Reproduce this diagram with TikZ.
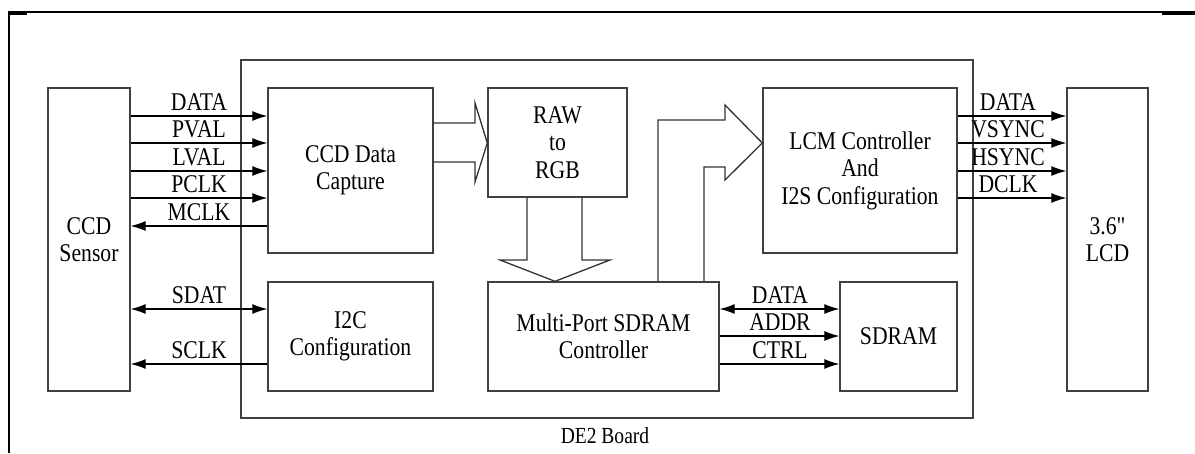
\documentclass[tikz,border=0pt]{standalone}
\usepackage{fontspec}
\setmainfont[FakeStretch=0.85]{Liberation Serif}
\newfontfamily\plainserif[FakeStretch=0.85]{Liberation Serif}
\usetikzlibrary{arrows.meta}

\begin{document}
\begin{tikzpicture}[x=1pt,y=-1pt,
  box/.style={draw=black!75, line width=1.4pt, fill=white, inner sep=0pt,
              align=center, font=\fontsize{25.5}{27.5}\selectfont},
  sig/.style={line width=1.1pt, -{Latex[length=15pt,width=10pt]}},
  bisig/.style={line width=1.1pt, {Latex[length=15pt,width=10pt]}-{Latex[length=15pt,width=10pt]}},
  lbl/.style={font=\fontsize{25.5}{25.5}\selectfont, inner sep=0pt, anchor=base},
  fat/.style={draw=black!80, line width=1.3pt, line join=miter}]

\useasboundingbox (0,0) rectangle (1195,453);

% page frame
\draw[line width=1.3pt] (9,453) -- (9,12) -- (1195,12);
\draw[line width=3pt] (8.4,13) -- (27,13);
\draw[line width=3pt] (1162,13) -- (1195,13);

% board outline
\node[box, minimum width=732pt, minimum height=358pt] (board) at (607,239) {};
\node[lbl, font=\fontsize{23}{23}\selectfont] (boardlbl) at (605,443) {DE2 Board};

% blocks
\node[box, minimum width=82pt,  minimum height=303pt] (sensor)  at (89,239.5)    {CCD\\Sensor};
\node[box, minimum width=165pt, minimum height=165pt] (capture) at (350.5,170.5) {CCD Data\\Capture};
\node[box, minimum width=139pt, minimum height=109pt] (raw)     at (557.5,142.5) {RAW\\to\\RGB};
\node[box, minimum width=194pt, minimum height=165pt] (lcm)     at (860,170.5)   {LCM Controller\\And\\I2S Configuration};
\node[box, minimum width=81pt,  minimum height=303pt] (lcd)     at (1107.5,239.5){\plainserif 3.6"\\LCD};
\node[box, minimum width=165pt, minimum height=109pt] (i2c)     at (350.5,336.5) {I2C\\Configuration};
\node[box, minimum width=231pt, minimum height=109pt] (mp)      at (603.5,336.5) {Multi-Port SDRAM\\Controller};
\node[box, minimum width=117pt, minimum height=109pt] (sdram)   at (898.5,336.5) {SDRAM};

% wide data-path arrows
\draw[fat] (capture.east |- 0,123) -- (475,123) -- (475,103) -- (raw.west |- 0,143)
           -- (475,182) -- (475,162) -- (capture.east |- 0,162);
\draw[fat] (527,0 |- raw.south) -- (527,260) -- (500,260) -- (555,0 |- mp.north)
           -- (610,260) -- (582,260) -- (582,0 |- raw.south);
\draw[fat] (658,0 |- mp.north) -- (658,120) -- (725,120) -- (725,105) -- (lcm.west |- 0,143)
           -- (725,180) -- (725,167) -- (704,167) -- (704,0 |- mp.north);

% sensor interface
\draw[sig] (sensor.east |- 0,116) -- (capture.west |- 0,116);
\draw[sig] (sensor.east |- 0,143) -- (capture.west |- 0,143);
\draw[sig] (sensor.east |- 0,171) -- (capture.west |- 0,171);
\draw[sig] (sensor.east |- 0,198) -- (capture.west |- 0,198);
\draw[sig] (capture.west |- 0,226) -- (sensor.east |- 0,226);
\draw[bisig] (sensor.east |- 0,309) -- (i2c.west |- 0,309);
\draw[sig] (i2c.west |- 0,364) -- (sensor.east |- 0,364);
\node[lbl] (l1) at (199,110) {DATA};
\node[lbl] (l2) at (199,137) {PVAL};
\node[lbl] (l3) at (199,165) {LVAL};
\node[lbl] (l4) at (199,192) {PCLK};
\node[lbl] (l5) at (199,220) {MCLK};
\node[lbl] (l6) at (199,303) {SDAT};
\node[lbl] (l7) at (199,358) {SCLK};

% display interface
\draw[sig] (lcm.east |- 0,116) -- (lcd.west |- 0,116);
\draw[sig] (lcm.east |- 0,143) -- (lcd.west |- 0,143);
\draw[sig] (lcm.east |- 0,171) -- (lcd.west |- 0,171);
\draw[sig] (lcm.east |- 0,198) -- (lcd.west |- 0,198);
\node[lbl] (r1) at (1008,110) {DATA};
\node[lbl] (r2) at (1008,137) {VSYNC};
\node[lbl] (r3) at (1008,165) {HSYNC};
\node[lbl] (r4) at (1008,192) {DCLK};

% memory interface
\draw[bisig] (mp.east |- 0,309) -- (sdram.west |- 0,309);
\draw[sig] (mp.east |- 0,336) -- (sdram.west |- 0,336);
\draw[sig] (mp.east |- 0,364) -- (sdram.west |- 0,364);
\node[lbl] (m1) at (780,303) {DATA};
\node[lbl] (m2) at (780,330) {ADDR};
\node[lbl] (m3) at (780,358) {CTRL};
\end{tikzpicture}
\end{document}
